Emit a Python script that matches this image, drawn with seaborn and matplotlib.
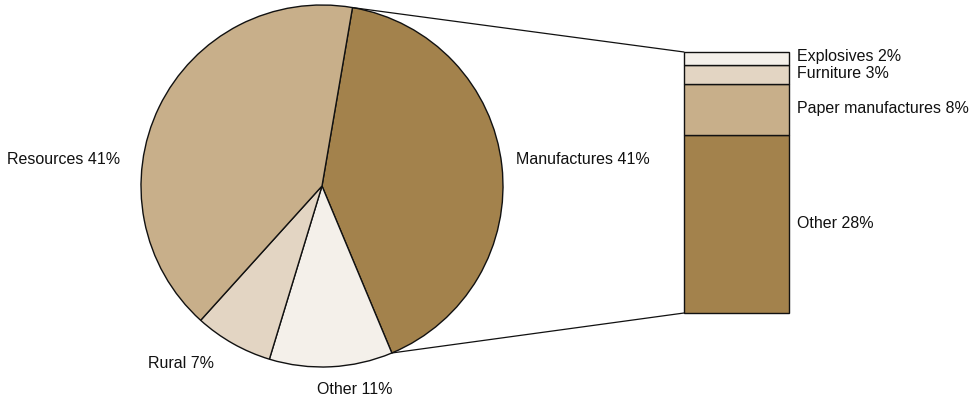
import matplotlib
matplotlib.use("Agg")
import matplotlib.pyplot as plt
import seaborn as sns
import numpy as np
from matplotlib.patches import ConnectionPatch

# Export composition (outer pie) and the manufactures breakdown (stacked bar)
pie_labels = ["Manufactures", "Other", "Rural", "Resources"]
pie_values = [41, 11, 7, 41]
pie_colors = ["#A3824C", "#F4F0EA", "#E3D5C3", "#C8AF8A"]

bar_labels = ["Other", "Paper manufactures", "Furniture", "Explosives"]
bar_values = [28, 8, 3, 2]
bar_colors = ["#A3824C", "#C8AF8A", "#E3D5C3", "#F4F0EA"]

sns.set_theme(style="white")
plt.rcParams["font.family"] = ["Liberation Sans", "DejaVu Sans"]

W, H = 975, 400
fig = plt.figure(figsize=(W / 100, H / 100), dpi=100)

# pie axes: centre (322, 186) px, radius 181 px
cx, cy, r = 322, 186, 181
ax1 = fig.add_axes([(cx - r) / W, (H - cy - r) / H, 2 * r / W, 2 * r / H])
start = 80.3
wedges, _ = ax1.pie(pie_values, colors=pie_colors, startangle=start,
                    counterclock=False, radius=1,
                    wedgeprops=dict(edgecolor="#111111", linewidth=1.0))
for wd in wedges:
    wd.set_clip_on(False)
ax1.set_xlim(-1, 1)
ax1.set_ylim(-1, 1)
ax1.set_aspect("equal")
ax1.axis("off")

fs = 11.5
def px(x, y):
    return ((x - cx) / r, (cy - y) / r)

pie_text_pos = {
    "Manufactures": (px(516, 160), "left"),
    "Other": (px(355, 390), "center"),
    "Rural": (px(181, 363), "center"),
    "Resources": (px(120, 160), "right"),
}
for lab, val in zip(pie_labels, pie_values):
    (x, y), ha = pie_text_pos[lab]
    ax1.text(x, y, f"{lab} {val}%", ha=ha, va="center", fontsize=fs,
             color="#111111", clip_on=False)

# stacked bar axes: x 684..789 px, y 52..313 px
bx0, bx1, by0, by1 = 684, 789, 52, 313
ax2 = fig.add_axes([bx0 / W, (H - by1) / H, (bx1 - bx0) / W, (by1 - by0) / H])
total = sum(bar_values)
bottom = 0
for lab, val, col in zip(bar_labels, bar_values, bar_colors):
    bars = ax2.bar(0.5, val, width=1, bottom=bottom, color=col,
                   edgecolor="#111111", linewidth=1.0)
    for b in bars:
        b.set_clip_on(False)
    bottom += val
ax2.set_xlim(0, 1)
ax2.set_ylim(0, total)
ax2.axis("off")

bar_text_y = {"Other": 223, "Paper manufactures": 109, "Furniture": 74,
              "Explosives": 57}
for lab, val in zip(bar_labels, bar_values):
    yd = total * (by1 - bar_text_y[lab]) / (by1 - by0)
    xd = (797 - bx0) / (bx1 - bx0)
    ax2.text(xd, yd, f"{lab} {val}%", ha="left", va="center", fontsize=fs,
             color="#111111", clip_on=False)

# connector lines from the manufactures wedge edges to the bar
w = wedges[0]
for theta, ybar in [(w.theta2, total), (w.theta1, 0)]:
    xp = np.cos(np.radians(theta))
    yp = np.sin(np.radians(theta))
    con = ConnectionPatch(xyA=(0, ybar), coordsA=ax2.transData,
                          xyB=(xp, yp), coordsB=ax1.transData,
                          color="#111111", linewidth=0.9)
    fig.add_artist(con)

fig.savefig("out.png", dpi=100)
